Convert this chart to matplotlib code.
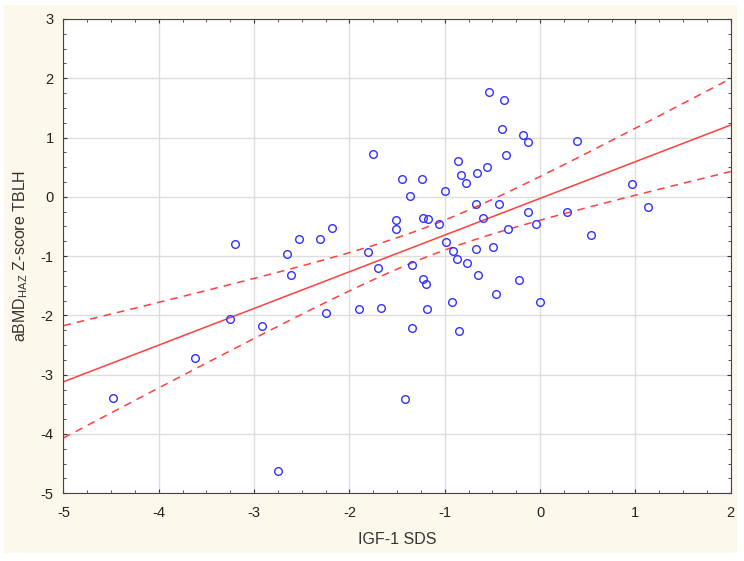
import numpy as np
import matplotlib.pyplot as plt
from matplotlib.patches import Rectangle
from matplotlib.ticker import MultipleLocator

plt.rcParams['font.family'] = ['Liberation Sans', 'DejaVu Sans']
plt.rcParams['mathtext.fontset'] = 'custom'
plt.rcParams['mathtext.rm'] = 'Liberation Sans'
plt.rcParams['mathtext.it'] = 'Liberation Sans'
plt.rcParams['axes.unicode_minus'] = False

# IGF-1 SDS (x) and aBMD HAZ Z-score TBLH (y)
igf1_sds = [-4.48, -3.62, -3.25, -3.20, -2.92, -2.75, -2.66, -2.61, -2.53, -2.31,
            -2.25, -2.18, -1.90, -1.81, -1.75, -1.70, -1.67, -1.51, -1.51, -1.45,
            -1.42, -1.36, -1.34, -1.34, -1.24, -1.23, -1.23, -1.20, -1.19, -1.18,
            -1.06, -1.00, -0.99, -0.92, -0.91, -0.87, -0.86, -0.85, -0.83, -0.78,
            -0.77, -0.67, -0.67, -0.66, -0.65, -0.60, -0.56, -0.54, -0.49, -0.46,
            -0.43, -0.40, -0.38, -0.36, -0.34, -0.22, -0.18, -0.13, -0.13, -0.04,
            0.00, 0.28, 0.39, 0.53, 0.96, 1.13]
bmd_z = [-3.39, -2.72, -2.06, -0.80, -2.18, -4.62, -0.97, -1.32, -0.71, -0.71,
         -1.96, -0.53, -1.90, -0.93, 0.72, -1.20, -1.88, -0.39, -0.55, 0.30,
         -3.41, 0.01, -1.15, -2.22, 0.30, -0.35, -1.38, -1.47, -1.89, -0.37,
         -0.46, 0.10, -0.76, -1.78, -0.92, -1.05, 0.60, -2.26, 0.36, 0.23,
         -1.11, -0.12, -0.88, 0.41, -1.32, -0.35, 0.50, 1.77, -0.84, -1.64,
         -0.12, 1.15, 1.63, 0.70, -0.55, -1.40, 1.04, 0.92, -0.26, -0.46,
         -1.77, -0.26, 0.94, -0.65, 0.22, -0.17]

x = np.array(igf1_sds)
y = np.array(bmd_z)

# linear fit with 95% confidence band
slope, intercept = np.polyfit(x, y, 1)
n = len(x)
resid = y - (intercept + slope * x)
s = np.sqrt(np.sum(resid ** 2) / (n - 2))
sxx = np.sum((x - x.mean()) ** 2)
t = 1.997

xs = np.linspace(-5, 2, 200)
fit = intercept + slope * xs
half = t * s * np.sqrt(1.0 / n + (xs - x.mean()) ** 2 / sxx)

fig = plt.figure(figsize=(7.44, 5.61), dpi=100, facecolor='white')
# cream panel behind the chart, with a thin white margin
fig.patches.append(Rectangle((4 / 744, 8 / 561), 733 / 744, 548 / 561,
                             transform=fig.transFigure, facecolor='#fdf8ec',
                             edgecolor='none', zorder=-1))
ax = fig.add_axes([0.0853, 0.1207, 0.8968, 0.8455])

ax.plot(xs, fit, color='#ff4040', lw=1.1, zorder=2)
ax.plot(xs, fit + half, color='#ff4040', lw=1.1, ls=(0, (5, 4)), zorder=2)
ax.plot(xs, fit - half, color='#ff4040', lw=1.1, ls=(0, (5, 4)), zorder=2)
ax.plot(x, y, 'o', mfc='none', mec='#3030ff', mew=1.0, ms=5.5, zorder=3)

ax.set_xlim(-5, 2)
ax.set_ylim(-5, 3)
ax.xaxis.set_major_locator(MultipleLocator(1))
ax.yaxis.set_major_locator(MultipleLocator(1))
ax.xaxis.set_minor_locator(MultipleLocator(0.25))
ax.yaxis.set_minor_locator(MultipleLocator(0.25))
ax.tick_params(which='both', direction='in', top=True, right=True,
               colors='#333333', labelcolor='#222222', labelsize=10.5)
ax.tick_params(which='major', length=3)
ax.tick_params(which='minor', length=2)
ax.tick_params(axis='x', which='major', pad=9)
ax.tick_params(axis='y', which='major', pad=7)
ax.grid(True, which='major', color='#dddddd', lw=1.0, zorder=0)
ax.set_axisbelow(True)
for sp in ax.spines.values():
    sp.set_color('#444444')

ax.set_xlabel('IGF-1 SDS', fontsize=11.5, color='#333333', labelpad=9)
ax.set_ylabel(r'aBMD$_{\mathrm{HAZ}}$ Z-score TBLH', fontsize=11.5,
              color='#333333', labelpad=8)

fig.savefig('out.png', dpi=100, facecolor=fig.get_facecolor())
